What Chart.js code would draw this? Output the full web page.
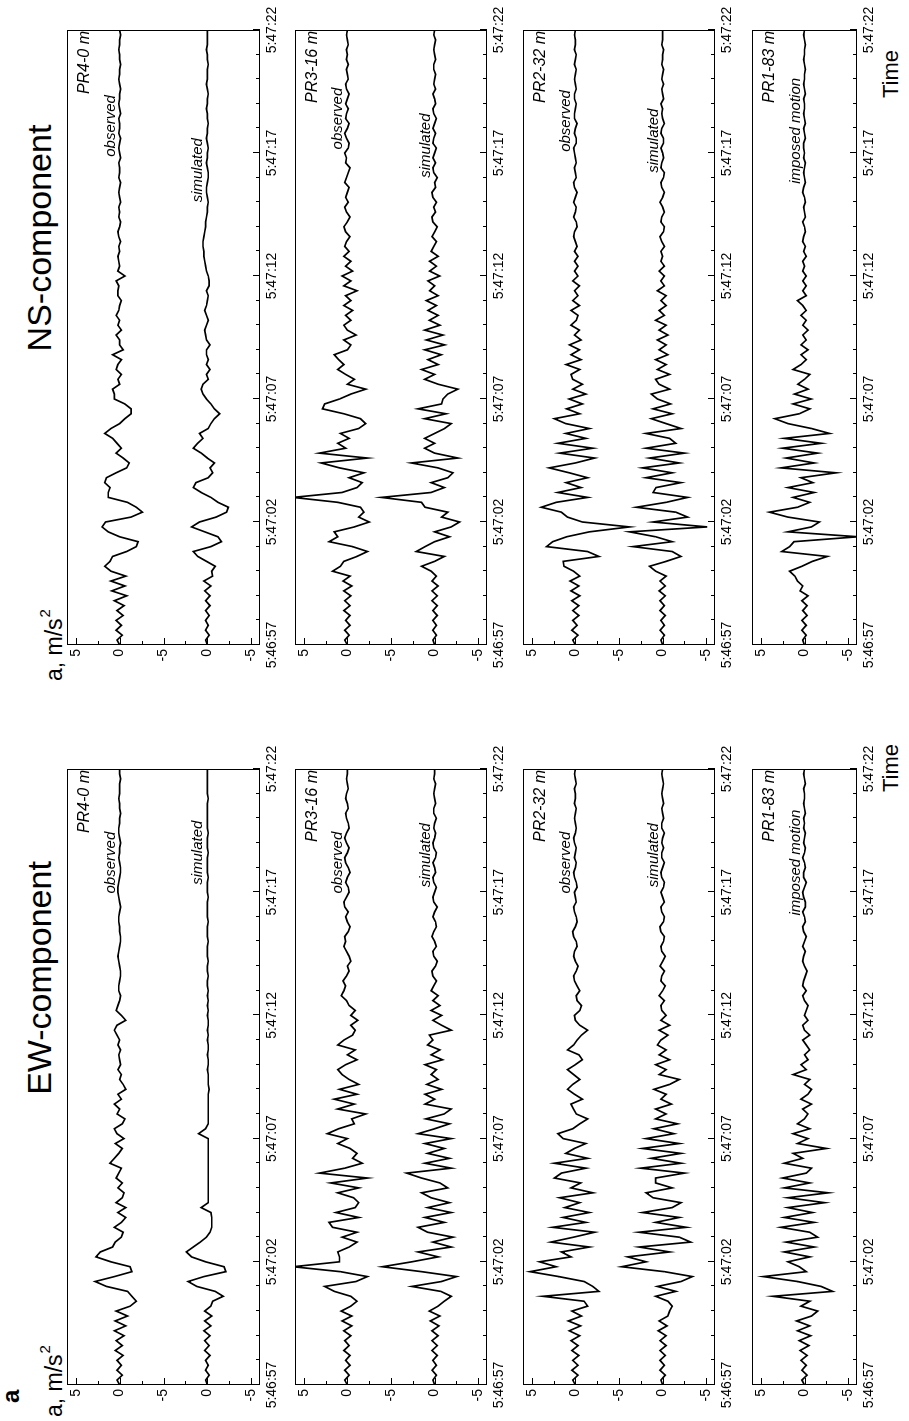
<!DOCTYPE html>
<html>
<head>
<meta charset="utf-8">
<script src="https://cdn.jsdelivr.net/npm/chart.js@4.4.1/dist/chart.umd.min.js"></script>
<style>
  html, body { margin: 0; padding: 0; background: #fff; overflow: hidden; }
  #page { position: absolute; left: 0; top: 0; width: 909px; height: 1421px; overflow: hidden; }
  /* the figure is laid out upright (1421 x 909) and turned a quarter left */
  #fig {
    position: absolute; left: 0; top: 0; width: 1421px; height: 909px;
    transform-origin: 0 0; transform: translate(0, 1421px) rotate(-90deg);
    font-family: "Liberation Sans", Arial, sans-serif; color: #000;
  }
  #fig canvas { position: absolute; }
  .txt { position: absolute; white-space: nowrap; line-height: 1; }
  .title { font-size: 34px; width: 400px; text-align: center; }
  .unit { font-size: 23px; }
  .unit span { font-size: 15px; position: relative; top: -12px; margin-left: 1px; }
</style>
</head>
<body>
<div id="page">
  <div id="fig">
    <div class="txt" style="left:18px;top:-1px;font-size:24px;font-weight:bold">a</div>
    <div class="txt title" style="left:243px;top:22px">EW-component</div>
    <div class="txt title" style="left:983px;top:22px">NS-component</div>
    <div class="txt unit" style="left:4px;top:43px">a, m/s<span>2</span></div>
    <div class="txt unit" style="left:740px;top:43px">a, m/s<span>2</span></div>
    <div class="txt" style="left:629px;top:880px;font-size:22px">Time</div>
    <div class="txt" style="left:1323px;top:880px;font-size:22px">Time</div>
  </div>
</div>
<script>
// accelerograms sampled every DT seconds from 5:46:57
const DT = 0.2;
const TIME_LABELS = ['5:46:57', '5:47:02', '5:47:07', '5:47:12', '5:47:17', '5:47:22'];
const Y_TICKS = [5, 0, -5, -10, -15];
const Y_LABELS = ['5', '0', '-5', '0', '-5'];
const STATIONS = ['PR4-0 m', 'PR3-16 m', 'PR2-32 m', 'PR1-83 m'];

/* ---------- EW component ---------- */
const ewObs4 = [
  0, 0.3, -0.3, 0.3, -0.2, 0.3, -0.4, 0.5, -0.3, 0.4,
  -0.5, 0.6, -0.7, 0.5, -0.9, 0.4, -1.2, -1.9, -1.4, -0.9,
  1.5, 2.8, 0.6, -1.4, -1.2, 1.0, 2.7, 2.2, 0.8, 0.5,
  -0.2, -0.4, 0.6, -0.2, -0.7, 0.2, -0.7, 0.4, -0.3, -0.5,
  0.2, -0.3, 0.4, 0.1, -0.2, 1.1, 0.6, 0.1, -0.3, 0.5,
  -0.5, 0.3, 0.6, -0.3, -0.6, 0.3, 0.0, 0.6, -0.2, 0.2,
  -0.7, -0.4, 0.0, -0.2, 0.2, -0.1, 0.0, 0.1, -0.1, 0.2,
  0.0, 0.3, 0.6, 0.3, -0.7, -0.2, 0.4, 0.2, 0.0, -0.1,
  0.1, 0.1, 0.0, -0.1, -0.1, 0.0, 0.1, 0.2, 0.1, 0.0,
  -0.1, -0.1, 0.0, 0.0, 0.1, 0.1, 0.0, -0.1, 0.0, 0.1,
  0.2, 0.2, 0.1, 0.0, -0.1, -0.1, 0.0, 0.1, 0.0, 0.0,
  -0.1, 0.0, 0.1, 0.1, 0.0, 0.0, -0.1, 0.0, 0.0, 0.1,
  0.0, 0.0, 0.0, -0.1, 0.0, 0.0
];
const ewSim4 = [
  0, 0.2, -0.2, 0.2, -0.1, 0.2, -0.3, 0.3, -0.2, 0.3,
  -0.3, 0.4, -0.4, 0.3, -0.5, 0.3, -0.4, -0.6, -1.8, -0.9,
  1.2, 2.2, 0.4, -2.1, -1.9, 0.2, 1.8, 2.4, 1.6, 0.8,
  0.1, -0.3, -0.5, -0.5, -0.5, -0.4, 0.7, -0.1, -0.1, -0.1,
  -0.1, -0.1, -0.1, -0.1, -0.1, -0.1, -0.1, -0.1, -0.1, -0.1,
  -0.1, 1.0, 0.2, -0.1, -0.1, -0.1, -0.1, -0.1, -0.1, -0.1,
  -0.2, -0.1, -0.1, -0.1, 0.0, -0.1, -0.1, 0.0, -0.1, -0.1,
  0.0, -0.1, 0.0, -0.1, -0.1, 0.0, -0.1, 0.0, -0.1, 0.0,
  -0.1, 0.0, 0.0, -0.1, 0.0, 0.0, -0.1, 0.0, 0.0, 0.0,
  -0.1, 0.0, 0.0, 0.0, -0.1, 0.0, 0.0, 0.0, 0.0, -0.1,
  0.0, 0.0, 0.0, -0.1, 0.0, 0.0, 0.0, 0.0, -0.1, 0.0,
  0.0, 0.0, -0.1, 0.0, 0.0, 0.0, 0.0, 0.0, 0.0, -0.1,
  0.0, 0.0, 0.0, 0.0, 0.0, 0.0
];
const ewObs3 = [
  0, 0.3, -0.2, 0.3, -0.3, 0.2, -0.3, 0.4, -0.2, 0.3,
  -0.4, 0.4, -0.5, 0.6, -0.5, 0.7, -0.4, -1.1, -0.4, 1.5,
  2.6, -1.0, -2.3, 0.8, 6.2, 0.9, 0.9, 1.1, -0.2, -1.1,
  0.6, -1.1, 1.7, 2.1, -1.3, 1.3, -0.9, -1.3, -0.7, 1.1,
  -1.3, 1.9, -2.3, 3.2, 0.3, -1.7, -0.6, -1.1, -0.3, 1.1,
  0.0, 2.3, 1.0, -0.8, -0.5, -2.1, 1.1, -0.8, 1.5, -1.1,
  0.9, -1.3, -0.2, 0.6, 1.1, 0.2, -1.1, 0.0, -0.9, 1.1,
  0.4, -0.6, -0.9, -0.4, -1.2, -0.4, -0.9, -0.2, 0.1, 0.7,
  0.4, 0.2, 0.5, 0.1, -0.2, 0.0, -0.4, -0.2, 0.1, 0.4,
  0.2, 0.3, -0.1, -0.3, 0.0, 0.2, -0.1, 0.3, 0.4, 0.1,
  -0.2, -0.1, 0.2, 0.0, -0.3, -0.1, 0.2, 0.3, 0.0, -0.2,
  0.1, 0.3, 0.1, -0.2, -0.1, 0.1, 0.2, -0.1, 0.0, 0.2,
  0.1, -0.1, 0.0, 0.1, 0.0, 0.0
];
const ewSim3 = [
  0, 0.2, -0.2, 0.3, -0.2, 0.2, -0.3, 0.3, -0.3, 0.3,
  -0.4, 0.3, -0.5, 0.5, -0.6, 0.6, -0.4, -1.1, -1.9, -0.7,
  2.6, -0.8, -2.5, 1.5, 6.0, 2.6, -0.4, 1.9, -1.9, 0.2,
  -2.1, 0.8, 1.9, -1.1, 1.1, -1.9, 0.8, -1.7, 0.4, 1.5,
  -1.5, -0.6, 1.5, 3.2, -1.9, 1.1, -1.7, 0.8, -1.1, 1.1,
  -1.9, 1.9, 0.0, -1.7, 1.0, -1.1, -1.9, 1.1, 0.0, 1.1,
  -0.8, 0.9, -0.4, 0.4, -0.2, 1.1, -0.9, 0.4, -0.6, 0.8,
  0.2, 0.6, -1.9, -0.8, 0.2, -0.8, 0.4, -0.6, 0.2, -0.4,
  0.4, 0.1, -0.2, 0.2, 0.3, -0.1, -0.3, 0.1, 0.2, -0.2,
  0.0, 0.3, 0.1, -0.2, -0.1, 0.2, 0.0, -0.3, 0.1, 0.2,
  0.0, -0.2, 0.1, 0.2, -0.1, 0.0, 0.2, -0.1, -0.2, 0.1,
  0.2, 0.0, -0.1, 0.1, 0.0, -0.2, 0.1, 0.1, -0.1, 0.0,
  0.1, 0.0, -0.1, 0.1, 0.0, 0.0
];
const ewObs2 = [
  0, 0.3, -0.3, 0.4, -0.3, 0.3, -0.4, 0.4, -0.3, 0.5,
  -0.5, 0.7, -0.6, 0.8, -0.7, 0.4, -1.4, -1.0, 3.7, -2.7,
  -2.0, -1.0, 1.9, 5.2, 2.2, 4.1, 0.5, 1.6, -1.6, 2.8,
  0.2, -2.2, 2.6, -1.2, 1.4, -1.6, 1.2, -0.5, 1.8, -2.0,
  0.5, -0.6, 2.4, 1.6, -1.2, 2.4, -1.4, 1.1, 0.1, -1.2,
  1.4, 2.0, 0.3, -0.5, -1.4, -0.1, 0.2, 0.5, -0.8, 0.1,
  0.9, 0.3, -0.5, 0.2, 0.9, 0.0, -0.8, -0.4, 0.9, 0.2,
  -0.2, -0.7, -1.4, -0.5, 0.0, 0.1, -0.5, -0.7, -0.2, -0.1,
  -0.5, -0.2, 0.1, 0.2, -0.1, -0.3, 0.0, 0.2, 0.1, -0.2,
  -0.1, 0.2, 0.3, 0.0, -0.2, -0.1, 0.1, 0.2, -0.1, 0.0,
  0.1, -0.2, -0.1, 0.1, 0.2, 0.0, -0.1, 0.1, 0.0, -0.1,
  0.1, 0.2, 0.0, -0.1, 0.0, 0.1, 0.0, -0.1, 0.1, 0.0,
  0.0, 0.1, -0.1, 0.0, 0.1, 0.0
];
const ewSim2 = [
  0, 0.2, -0.3, 0.3, -0.2, 0.3, -0.3, 0.3, -0.4, 0.3,
  -0.4, 0.5, -0.5, 0.4, -0.6, -0.8, -1.1, -0.6, 0.8, -1.5,
  0.6, -2.1, -3.4, -0.2, 4.7, 1.9, 4.0, -0.8, 2.7, -3.2,
  -1.9, 2.7, -2.7, 0.8, -1.9, 2.3, -1.1, -2.1, 1.1, 1.9,
  -1.1, 0.8, 0.8, -2.5, 2.5, -2.1, 1.3, -2.1, 2.3, -1.9,
  1.9, -1.3, 1.0, -1.7, 0.8, -0.4, 0.8, -1.0, 0.2, -0.4,
  1.0, -0.8, -1.9, 0.4, -0.4, 0.8, -0.8, 0.4, -0.4, 0.6,
  0.2, -0.6, 0.4, -0.8, 0.2, -0.4, 0.1, 0.2, -0.2, 0.4,
  0.0, -0.3, 0.2, 0.1, -0.2, 0.3, 0.0, -0.3, 0.1, 0.2,
  -0.1, -0.2, 0.2, 0.3, -0.1, -0.2, 0.1, 0.2, -0.2, 0.0,
  0.2, -0.1, -0.2, 0.1, 0.2, 0.0, -0.2, 0.1, 0.1, -0.1,
  0.1, 0.0, -0.2, 0.1, 0.1, -0.1, 0.0, 0.1, -0.1, 0.0,
  0.1, 0.0, -0.1, 0.0, 0.1, 0.0
];
const ewImp1 = [
  0, 0.3, -0.3, 0.3, -0.2, 0.4, -0.3, 0.5, -0.5, 0.6,
  -0.7, 0.8, -0.6, 0.9, -0.8, -1.5, 0.4, -0.6, 3.6, -3.2,
  -1.9, 0.8, 4.7, -0.2, 0.6, 1.9, -0.6, 2.3, -1.1, 2.1,
  -1.5, -0.6, 2.7, -1.1, 2.3, -0.9, 1.9, -2.3, 1.9, -2.7,
  2.3, -0.6, 2.5, -0.2, -0.8, 2.3, 0.2, 1.3, -2.5, 0.8,
  -0.4, 1.3, -0.6, 0.8, 0.0, -0.4, 0.2, -0.8, 0.4, -0.4,
  -0.8, 0.0, -0.6, 1.3, -0.2, 0.4, -0.4, 0.0, -0.6, -0.2,
  0.2, -0.6, 0.0, 0.2, -0.4, 0.0, -0.2, -0.4, 0.0, 0.2,
  -0.2, 0.2, 0.1, -0.1, -0.3, 0.0, 0.2, 0.1, -0.1, 0.2,
  0.0, -0.2, 0.1, 0.2, -0.1, 0.0, 0.2, -0.1, -0.1, 0.1,
  0.2, 0.0, -0.2, 0.1, 0.1, -0.1, 0.0, 0.2, 0.0, -0.1,
  0.1, 0.0, -0.1, 0.1, 0.0, 0.1, -0.1, 0.0, 0.1, 0.0,
  0.0, 0.1, -0.1, 0.0, 0.1, 0.0
];

/* ---------- NS component ---------- */
const nsObs4 = [
  0, 0.3, -0.3, 0.4, -0.2, 0.4, -0.4, 0.3, -0.5, 0.6,
  -0.8, 0.9, -0.6, 1.0, -0.7, 1.0, 1.7, 1.1, 0.8, -0.8,
  -1.9, -2.1, 0.0, 1.3, 2.0, 1.6, -1.3, -2.6, -1.9, -0.9,
  1.3, 1.3, 1.1, 1.7, 1.5, 0.4, -0.8, -1.1, -0.4, 0.4,
  -0.2, 0.3, 0.8, 1.7, 1.0, 0.0, -0.6, -1.3, -1.3, -0.6,
  0.6, 0.6, 0.8, 0.0, 0.2, -0.2, 0.4, 0.2, -0.2, 0.8,
  -0.4, 0.0, 0.0, 0.4, -0.2, 0.2, 0.0, 0.4, 0.1, 0.0,
  -0.2, 0.2, 0.2, 0.1, 0.4, -0.6, 0.2, 0.0, 0.1, 0.2,
  0.0, 0.1, -0.1, 0.1, 0.2, 0.0, -0.1, 0.1, 0.0, 0.1,
  -0.1, 0.0, 0.1, 0.0, -0.1, 0.1, 0.0, 0.0, 0.1, -0.1,
  0.0, 0.1, 0.0, -0.1, 0.1, 0.0, 0.0, 0.1, -0.1, 0.0,
  0.1, 0.0, 0.0, -0.1, 0.0, 0.1, 0.0, 0.0, -0.1, 0.0,
  0.0, 0.1, 0.0, 0.0, -0.1, 0.0
];
const nsSim4 = [
  0, 0.2, -0.2, 0.2, -0.1, 0.2, -0.2, 0.2, -0.3, 0.2,
  -0.3, 0.3, -0.4, 0.4, -0.6, -0.5, -0.9, 0.1, 1.1, 1.6,
  -0.4, -1.6, -1.2, 0.3, 1.8, 0.9, -1.0, -2.2, -2.4, -1.2,
  -0.4, 0.7, 1.6, 1.3, -0.1, -0.6, -0.3, -0.8, 0.0, 0.7,
  1.6, 1.1, 0.5, 0.9, -0.1, -0.4, -0.8, -1.4, -0.8, -0.4,
  0.1, 0.5, 0.7, 0.5, -0.1, 0.1, -0.3, 0.1, -0.1, 0.1,
  0.1, -0.3, 0.1, 0.2, 0.3, 0.1, -0.1, 0.1, 0.3, 0.1,
  0.0, -0.1, 0.1, -0.2, -0.2, -0.1, 0.1, 0.2, 0.3, 0.4,
  0.4, 0.5, 0.5, 0.4, 0.3, 0.2, 0.2, 0.1, 0.0, 0.0,
  -0.1, 0.0, 0.1, 0.1, 0.0, -0.1, -0.1, 0.0, 0.1, 0.0,
  0.0, -0.1, 0.0, 0.1, 0.0, 0.0, -0.1, 0.0, 0.0, 0.1,
  0.0, 0.0, -0.1, 0.0, 0.1, 0.0, 0.0, 0.0, -0.1, 0.0,
  0.0, 0.1, 0.0, 0.0, 0.0, 0.0
];
const nsObs3 = [
  0, 0.3, -0.2, 0.3, -0.3, 0.2, -0.3, 0.4, -0.3, 0.3,
  -0.4, 0.4, -0.5, 0.5, -0.3, 1.7, 0.8, 0.4, -1.1, -2.3,
  -0.6, 2.1, 1.1, 1.5, -0.8, -2.5, -1.3, -1.9, -1.5, 1.1,
  6.2, 0.6, -1.1, -1.7, -0.2, -1.9, 0.9, 3.0, -2.3, 3.2,
  0.2, 1.1, -0.2, 0.8, -1.3, -2.1, -1.5, 0.4, 2.85, 2.6,
  0.9, -0.4, -2.1, 0.0, -0.8, 0.2, 1.1, 0.4, 1.0, 1.5,
  0.0, -0.4, 0.4, -1.0, 0.0, 0.4, -0.4, 0.2, -0.6, 0.4,
  -0.4, 0.2, -1.1, 0.4, -0.4, 0.6, -0.6, 0.2, -0.4, 0.4,
  -0.2, 0.3, 0.1, -0.3, 0.2, 0.4, 0.0, -0.3, 0.1, 0.3,
  -0.1, 0.2, 0.0, -0.2, 0.3, 0.1, -0.1, -0.3, 0.2, 0.1,
  0.3, -0.1, -0.2, 0.1, 0.3, 0.0, -0.2, 0.2, 0.1, -0.1,
  0.2, 0.0, -0.2, 0.1, 0.2, -0.1, 0.0, 0.1, -0.1, 0.1,
  0.0, 0.1, -0.1, 0.0, 0.1, 0.0
];
const nsSim3 = [
  0, 0.2, -0.2, 0.2, -0.2, 0.2, -0.3, 0.2, -0.3, 0.3,
  -0.3, 0.3, -0.4, 0.3, -0.2, 0.4, 1.5, 0.0, -1.1, 2.1,
  1.1, 0.0, -1.7, 0.0, -1.9, -2.85, -0.8, -1.5, 1.1, 1.5,
  6.1, 0.4, -1.1, 0.4, -1.5, -2.1, -0.4, 2.66, -2.66, 0.0,
  1.14, 0.0, 1.14, 0.0, -1.14, -1.9, 1.14, -1.3, 1.9, -0.8,
  -0.95, -1.5, -2.66, -0.4, 1.14, 0.0, 1.5, -0.4, 0.76, -0.76,
  1.14, -1.14, 0.95, -0.95, 1.14, -0.6, 0.6, -0.4, 0.76, -0.2,
  0.95, -0.4, 0.57, 0.0, 0.76, -0.57, 0.57, -0.2, 0.57, -0.4,
  0.4, 0.1, -0.2, 0.3, 0.0, -0.3, 0.2, 0.3, -0.1, 0.1,
  -0.2, 0.2, 0.3, -0.1, 0.0, -0.3, 0.1, 0.2, -0.1, 0.2,
  0.0, -0.2, 0.2, 0.1, -0.1, 0.2, 0.0, -0.2, 0.1, 0.2,
  -0.1, 0.0, 0.2, -0.1, 0.1, 0.0, -0.1, 0.1, 0.1, -0.1,
  0.0, 0.1, 0.0, -0.1, 0.1, 0.0
];
const nsObs2 = [
  0, 0.3, -0.3, 0.4, -0.2, 0.3, -0.4, 0.3, -0.4, 0.4,
  -0.5, 0.5, -0.4, 0.6, -0.5, 0.2, 1.3, 1.4, -2.7, -1.4,
  3.3, 2.6, 1.0, -1.6, -6.2, -0.8, 0.9, 1.6, 3.9, 2.2,
  -1.4, 2.0, -0.65, 1.06, -1.4, 0.7, 3.0, 0.0, -2.2, 1.8,
  -2.0, 2.0, -1.2, 1.1, -1.6, 1.1, 2.4, -0.5, 1.0, -0.8,
  0.7, -1.2, 0.3, -0.8, 0.3, 0.5, -0.5, 1.06, -0.65, 0.5,
  -0.46, 0.68, -0.65, 0.1, -0.46, 0.5, -0.1, -0.3, 0.5, -0.46,
  0.3, -0.3, 0.1, -0.46, 0.3, -0.3, 0.1, -0.3, 0.1, -0.3,
  0.1, -0.2, 0.0, 0.2, 0.1, -0.2, -0.1, 0.2, 0.0, -0.1,
  0.2, 0.0, -0.2, 0.1, 0.2, -0.1, 0.0, 0.1, -0.1, 0.0,
  0.1, 0.2, -0.1, -0.1, 0.1, 0.0, -0.2, 0.1, 0.1, 0.0,
  -0.1, 0.1, 0.1, -0.1, 0.0, 0.1, 0.0, -0.1, 0.1, 0.0,
  -0.1, 0.1, 0.0, 0.0, 0.1, 0.0
];
const nsSim2 = [
  0, 0.2, -0.2, 0.3, -0.2, 0.2, -0.3, 0.3, -0.2, 0.3,
  -0.3, 0.4, -0.3, 0.3, -0.4, 0.8, 1.5, -0.4, -2.1, -1.1,
  3.4, -1.1, 0.8, 3.8, -5.1, 1.1, -2.85, -1.5, 3.0, -0.4,
  -2.85, 1.1, 0.76, -2.1, 1.9, -1.1, 2.3, -1.9, 1.5, -2.5,
  1.9, -1.5, -0.8, 1.9, -2.1, -0.4, 1.3, -1.1, 1.1, -0.9,
  0.6, 1.3, -0.8, 0.4, 0.8, -0.8, 0.6, -0.4, 0.8, -0.6,
  0.4, -0.4, 0.6, -0.6, 0.4, -0.4, 0.8, -0.2, 0.4, -0.4,
  0.2, -0.4, 0.6, -0.2, 0.2, -0.2, 0.4, -0.2, 0.2, 0.0,
  0.2, -0.2, 0.1, 0.3, -0.1, -0.2, 0.2, 0.1, -0.2, 0.0,
  0.3, 0.0, -0.2, 0.1, 0.2, -0.1, -0.2, 0.2, 0.1, -0.1,
  0.0, 0.2, -0.1, -0.1, 0.2, 0.1, -0.2, 0.0, 0.1, 0.0,
  0.2, -0.1, 0.0, 0.1, -0.1, 0.1, 0.0, -0.1, 0.1, 0.0,
  0.0, -0.1, 0.1, 0.0, 0.0, 0.0
];
const nsImp1 = [
  0, 0.2, -0.2, 0.3, -0.2, 0.3, -0.3, 0.2, -0.3, 0.3,
  -0.4, 0.5, 0.2, 0.8, 1.1, 1.7, 0.3, -0.9, -2.6, 2.6,
  1.7, 1.2, -6.1, 1.9, -0.8, -1.7, 1.9, 4.0, 0.8, -0.6,
  1.3, -1.1, 1.9, -0.95, 0.4, -3.6, 2.66, -1.1, 2.1, -1.5,
  2.5, -1.9, 2.3, -2.85, -0.8, 1.9, 3.4, 0.6, -0.6, 1.3,
  -0.76, 1.14, -0.4, 0.76, 0.0, -0.6, 1.3, 0.4, -0.2, 0.4,
  -0.4, 0.4, -0.2, 0.2, -0.4, 0.2, -0.2, 0.4, -0.2, 0.2,
  0.8, -0.2, 0.2, -0.2, 0.2, -0.2, 0.2, 0.0, 0.2, -0.2,
  0.1, -0.1, 0.2, 0.1, -0.1, 0.0, 0.2, -0.1, 0.0, 0.1,
  -0.1, 0.0, 0.2, 0.1, -0.1, 0.0, 0.1, 0.0, -0.1, 0.1,
  0.0, 0.1, 0.1, -0.1, 0.0, 0.1, -0.1, 0.0, 0.1, 0.0,
  0.0, 0.1, -0.1, 0.0, 0.1, 0.0, 0.0, -0.1, 0.0, 0.1,
  0.0, 0.0, -0.1, 0.0, 0.1, 0.0
];

/* ---------- LAYOUT ---------- */
const COLS = [
  { left: 36, width: 616 },
  { left: 776, width: 615 }
];
const ROWS = [
  { top: 67, height: 193, min: -16, max: 6, lowTick: -15 },
  { top: 295, height: 192, min: -16, max: 6, lowTick: -15 },
  { top: 523, height: 192, min: -16, max: 6, lowTick: -15 },
  { top: 752, height: 105, min: -6, max: 6, lowTick: -5 }
];
const PAD = { left: 34, right: 30, top: 6, bottom: 24 };

const panels = [
  { col: 0, row: 0, series: [ewObs4, ewSim4], names: ['observed', 'simulated'], at: [21.2, 21.6] },
  { col: 0, row: 1, series: [ewObs3, ewSim3], names: ['observed', 'simulated'], at: [21.2, 21.5] },
  { col: 0, row: 2, series: [ewObs2, ewSim2], names: ['observed', 'simulated'], at: [21.2, 21.5] },
  { col: 0, row: 3, series: [ewImp1], names: ['imposed motion'], at: [21.2] },
  { col: 1, row: 0, series: [nsObs4, nsSim4], names: ['observed', 'simulated'], at: [21.1, 19.3] },
  { col: 1, row: 1, series: [nsObs3, nsSim3], names: ['observed', 'simulated'], at: [21.4, 20.3] },
  { col: 1, row: 2, series: [nsObs2, nsSim2], names: ['observed', 'simulated'], at: [21.3, 20.5] },
  { col: 1, row: 3, series: [nsImp1], names: ['imposed motion'], at: [20.9] }
];

const FONT = '"Liberation Sans", Arial, sans-serif';

// frame, inward ticks and all panel texts
const framePlugin = {
  id: 'frame',
  afterDatasetsDraw(chart, args, opt) {
    const { ctx, chartArea: a } = chart;
    const x = chart.scales.x, y = chart.scales.y;
    ctx.save();
    ctx.strokeStyle = '#000';
    ctx.lineWidth = 1;
    ctx.strokeRect(a.left + 0.5, a.top + 0.5, a.width - 1, a.height - 1);

    ctx.beginPath();
    for (let s = 0; s <= 25; s++) {
      const px = Math.round(x.getPixelForValue(s)) + 0.5;
      const len = s % 5 === 0 ? 7 : 4;
      ctx.moveTo(px, a.bottom);
      ctx.lineTo(px, a.bottom - len);
    }
    for (let v = 5; v >= opt.lowTick; v -= 2.5) {
      const py = Math.round(y.getPixelForValue(v)) + 0.5;
      const len = v % 5 === 0 ? 7 : 4;
      ctx.moveTo(a.left, py);
      ctx.lineTo(a.left + len, py);
    }
    ctx.stroke();

    ctx.fillStyle = '#000';
    ctx.font = '14px ' + FONT;
    ctx.textAlign = 'center';
    ctx.textBaseline = 'alphabetic';
    TIME_LABELS.forEach((t, i) => ctx.fillText(t, x.getPixelForValue(i * 5), a.bottom + 16));

    ctx.textAlign = 'right';
    ctx.textBaseline = 'middle';
    Y_TICKS.forEach((v, i) => {
      if (v >= opt.lowTick) ctx.fillText(Y_LABELS[i], a.left - 4, y.getPixelForValue(v));
    });

    ctx.textBaseline = 'alphabetic';
    ctx.font = 'italic 16px ' + FONT;
    ctx.fillText(opt.station, a.right - 1, a.top + 22);

    ctx.font = 'italic 15px ' + FONT;
    ctx.textAlign = 'center';
    opt.names.forEach((n, k) => {
      ctx.fillText(n, x.getPixelForValue(opt.at[k]), y.getPixelForValue(-10 * k) - 5);
    });
    ctx.restore();
  }
};

const fig = document.getElementById('fig');

panels.forEach(p => {
  const c = COLS[p.col], r = ROWS[p.row];
  const canvas = document.createElement('canvas');
  const w = c.width + PAD.left + PAD.right;
  const h = r.height + PAD.top + PAD.bottom;
  canvas.width = w;
  canvas.height = h;
  canvas.style.left = (c.left - PAD.left) + 'px';
  canvas.style.top = (r.top - PAD.top) + 'px';
  canvas.style.width = w + 'px';
  canvas.style.height = h + 'px';
  fig.appendChild(canvas);

  // simulated trace is drawn 10 m/s2 below the observed one
  const datasets = p.series.map((vals, k) => ({
    data: vals.map((v, i) => ({ x: i * DT, y: v - 10 * k })),
    borderColor: '#000',
    borderWidth: 1.7,
    pointRadius: 0,
    tension: 0
  }));

  new Chart(canvas, {
    type: 'line',
    data: { datasets },
    options: {
      responsive: false,
      animation: false,
      devicePixelRatio: 1,
      parsing: false,
      normalized: true,
      layout: { padding: PAD },
      plugins: {
        legend: { display: false },
        tooltip: { enabled: false },
        frame: { station: STATIONS[p.row], names: p.names, at: p.at, lowTick: r.lowTick }
      },
      scales: {
        x: { type: 'linear', min: 0, max: 25, display: false },
        y: { type: 'linear', min: r.min, max: r.max, display: false }
      }
    },
    plugins: [framePlugin]
  });
});
</script>
</body>
</html>
